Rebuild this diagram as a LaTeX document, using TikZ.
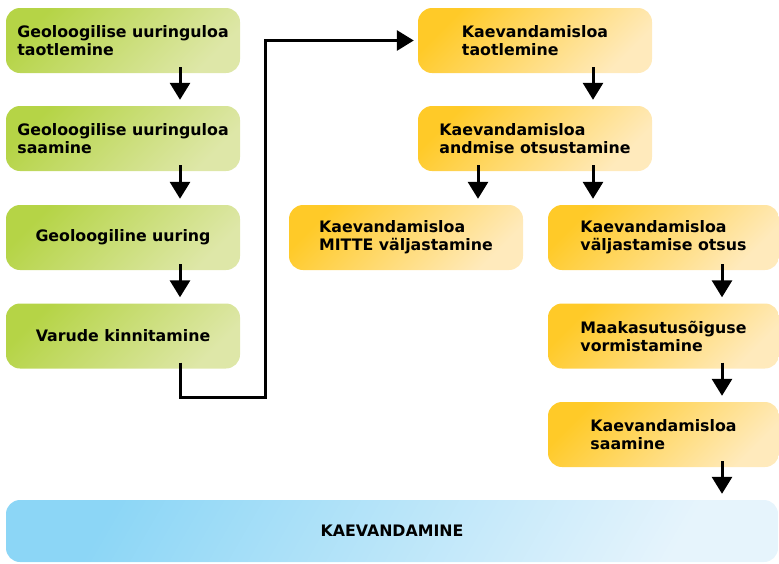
\documentclass[tikz,border=0pt]{standalone}
\usepackage{fontspec}
\setmainfont{DejaVu Sans}
\usepackage{tikz}
\usetikzlibrary{arrows.meta}
\definecolor{uuringA}{RGB}{181,212,70}
\definecolor{uuringB}{RGB}{222,231,168}
\definecolor{lubaA}{RGB}{255,202,40}
\definecolor{lubaB}{RGB}{255,234,188}
\definecolor{kaeveA}{RGB}{140,214,246}
\definecolor{kaeveB}{RGB}{230,244,252}
\tikzstyle{kast}=[rectangle, rounded corners=14pt, minimum width=234pt, minimum height=65pt, inner sep=0pt, align=left, font=\fontsize{15.8}{18}\selectfont\bfseries]
\tikzstyle{uuring}=[kast, top color=uuringA, bottom color=uuringB, shading angle=45]
\tikzstyle{luba}=[kast, top color=lubaA, bottom color=lubaB, shading angle=45]
\tikzstyle{kaeve}=[kast, top color=kaeveA, bottom color=kaeveB, shading angle=60, minimum width=772pt, minimum height=62pt]
\tikzstyle{nool}=[line width=3pt, -{Triangle[width=20pt, length=17pt]}, shorten <=-6pt, shorten >=6pt]

\begin{document}
\begin{tikzpicture}[x=1pt, y=-1pt]
                    \useasboundingbox (0, 0) rectangle (779, 563);
                    \node[uuring] (g1) at (123, 40.5) {Geoloogilise uuringuloa\\taotlemine};
                    \node[uuring] (g2) at (123, 138.5) {Geoloogilise uuringuloa\\saamine};
                    \node[uuring] (g3) at (123, 237.5) {Geoloogiline uuring};
                    \node[uuring] (g4) at (123, 336) {Varude kinnitamine};
                    \node[luba] (o1) at (535, 40.5) {Kaevandamisloa\\taotlemine};
                    \node[luba] (o2) at (535, 138.5) {Kaevandamisloa\\andmise otsustamine};
                    \node[luba] (o3) at (406, 237.5) {Kaevandamisloa\\MITTE väljastamine};
                    \node[luba, minimum width=231pt] (o4) at (663.5, 237.5) {Kaevandamisloa\\väljastamise otsus};
                    \node[luba, minimum width=231pt] (o5) at (663.5, 336) {Maakasutusõiguse\\vormistamine};
                    \node[luba, minimum width=231pt] (o6) at (663.5, 434.5) {Kaevandamisloa\\saamine};
                    \node[kaeve] (k) at (392, 531) {KAEVANDAMINE};
                    \coordinate (knick) at (265, 397);
                    \draw[nool] ([xshift=57pt]g1.south)--([xshift=57pt]g2.north);
                    \draw[nool] ([xshift=57pt]g2.south)--([xshift=57pt]g3.north);
                    \draw[nool] ([xshift=57pt]g3.south)--([xshift=57pt]g4.north);
                    \draw[nool, shorten >=4pt] ([xshift=57pt]g4.south) |- (knick) |- (o1.west);
                    \draw[nool] ([xshift=58pt]o1.south)--([xshift=58pt]o2.north);
                    \draw[nool] ([xshift=-57pt]o2.south)--([xshift=-57pt]o2.south |- o3.north);
                    \draw[nool] ([xshift=58pt]o2.south)--([xshift=58pt]o2.south |- o4.north);
                    \draw[nool] ([xshift=58.5pt]o4.south)--([xshift=58.5pt]o5.north);
                    \draw[nool] ([xshift=58.5pt]o5.south)--([xshift=58.5pt]o6.north);
                    \draw[nool] ([xshift=58.5pt]o6.south)--([xshift=58.5pt]o6.south |- k.north);
                \end{tikzpicture}
\end{document}
